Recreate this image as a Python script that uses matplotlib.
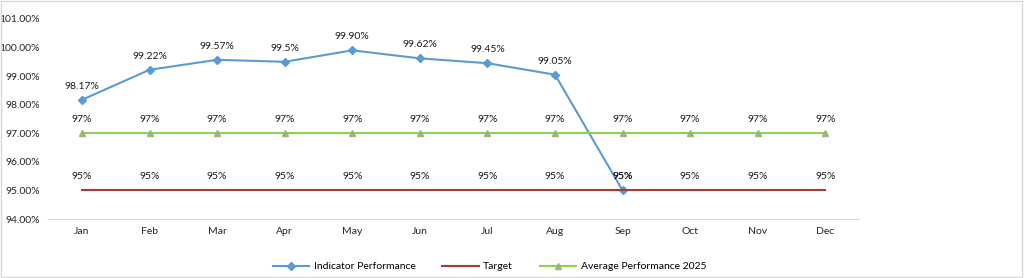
import numpy as np
import matplotlib.pyplot as plt
from matplotlib.ticker import FuncFormatter

months = ['Jan', 'Feb', 'Mar', 'Apr', 'May', 'Jun', 'Jul', 'Aug', 'Sep', 'Oct', 'Nov', 'Dec']
indicator = [98.17, 99.22, 99.57, 99.5, 99.90, 99.62, 99.45, 99.05, 95.0]
indicator_labels = ['98.17%', '99.22%', '99.57%', '99.5%', '99.90%', '99.62%', '99.45%', '99.05%', '95%']
target = [95] * 12
average = [97] * 12

plt.rcParams['font.family'] = ['Lato', 'DejaVu Sans']

fig = plt.figure(figsize=(10.24, 2.78), dpi=100)
ax = fig.add_axes([0.047, 0.212, 0.792, 0.72])

x = np.arange(len(months))
blue = '#5B9BD5'
red = '#A33B36'
green = '#92D050'

ax.plot(x[:len(indicator)], indicator, color=blue, lw=1.5, marker='D', ms=3.8,
        label='Indicator Performance')
ax.plot(x, target, color=red, lw=1.5, label='Target')
ax.plot(x, average, color=green, lw=1.5, marker='^', ms=5, mfc='#9BB57A', mec='#9BB57A',
        label='Average Performance 2025')

lab_kw = dict(xytext=(0, 6.5), textcoords='offset points', ha='center', va='bottom',
              fontsize=7.5, color='#1a1a1a')
for i, (v, lab) in enumerate(zip(indicator, indicator_labels)):
    ax.annotate(lab, (i, v), **lab_kw)
for i in x:
    ax.annotate('97%', (i, 97), **lab_kw)
    ax.annotate('95%', (i, 95), **lab_kw)

ax.set_xlim(-0.5, 11.5)
ax.set_ylim(94, 101)
ax.set_xticks(x)
ax.set_xticklabels(months)
ax.set_yticks(np.arange(94, 101.5, 1))
ax.yaxis.set_major_formatter(FuncFormatter(lambda v, p: f'{v:.2f}%'))
ax.tick_params(length=0, labelsize=7.5, colors='#262626', pad=6)
for s in ['top', 'right', 'left']:
    ax.spines[s].set_visible(False)
ax.spines['bottom'].set_color('#D9D9D9')

fig.legend(loc='lower center', bbox_to_anchor=(0.478, -0.01), ncol=3, frameon=False,
           fontsize=7.5, handlelength=3.5, columnspacing=2.6, handletextpad=0.4)

border = plt.Rectangle((0.001, 0.002), 0.997, 0.994, transform=fig.transFigure,
                       fill=False, edgecolor='#D9D9D9', lw=1)
fig.patches.append(border)

fig.savefig('out.png', dpi=100)
